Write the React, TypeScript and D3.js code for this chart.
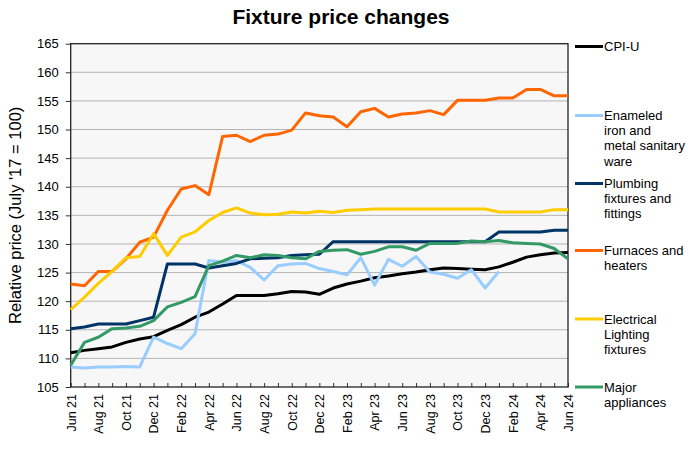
import React, { useEffect, useRef } from 'react';
import * as d3 from 'd3';

// Monthly, Jun 2021 .. Jun 2024
const months = [
  'Jun 21', 'Jul 21', 'Aug 21', 'Sep 21', 'Oct 21', 'Nov 21', 'Dec 21',
  'Jan 22', 'Feb 22', 'Mar 22', 'Apr 22', 'May 22', 'Jun 22', 'Jul 22',
  'Aug 22', 'Sep 22', 'Oct 22', 'Nov 22', 'Dec 22', 'Jan 23', 'Feb 23',
  'Mar 23', 'Apr 23', 'May 23', 'Jun 23', 'Jul 23', 'Aug 23', 'Sep 23',
  'Oct 23', 'Nov 23', 'Dec 23', 'Jan 24', 'Feb 24', 'Mar 24', 'Apr 24',
  'May 24', 'Jun 24',
];

const yTicks = [105, 110, 115, 120, 125, 130, 135, 140, 145, 150, 155, 160, 165];

const cpiU = [
  111.0, 111.4, 111.7, 112.0, 112.8, 113.4, 113.8, 114.9, 115.9, 117.2,
  118.1, 119.5, 121.0, 121.0, 121.0, 121.3, 121.7, 121.6, 121.2, 122.3,
  123.0, 123.5, 124.1, 124.4, 124.8, 125.1, 125.5, 125.8, 125.7, 125.6,
  125.5, 126.0, 126.8, 127.7, 128.1, 128.4, 128.5,
];

const enameled: (number | null)[] = [
  108.5, 108.3, 108.5, 108.5, 108.6, 108.5, 113.7, 112.6, 111.7, 114.3,
  127.1, 126.8, 127.1, 125.9, 123.7, 126.2, 126.5, 126.6, 125.7, 125.2,
  124.6, 127.6, 122.8, 127.3, 126.1, 127.8, 125.1, 124.7, 124.0, 125.5,
  122.3, 125.2, null, null, null, null, null,
];

const plumbing = [
  115.2, 115.5, 116.0, 116.0, 116.0, 116.6, 117.2, 126.5, 126.5, 126.5,
  125.8, 126.2, 126.6, 127.4, 127.5, 127.6, 128.0, 128.1, 128.2, 130.4,
  130.4, 130.4, 130.4, 130.4, 130.4, 130.4, 130.4, 130.4, 130.4, 130.4,
  130.4, 132.1, 132.1, 132.1, 132.1, 132.4, 132.4,
];

const furnaces = [
  123.0, 122.7, 125.2, 125.2, 127.4, 130.3, 131.2, 135.9, 139.6, 140.2,
  138.6, 148.8, 149.0, 147.9, 149.0, 149.2, 149.9, 152.9, 152.4, 152.2,
  150.5, 153.1, 153.7, 152.2, 152.7, 152.9, 153.3, 152.6, 155.1, 155.1,
  155.1, 155.5, 155.5, 157.0, 157.0, 155.9, 155.9,
];

const lighting = [
  118.5, 120.7, 123.1, 125.2, 127.6, 127.8, 131.8, 128.0, 131.2, 132.1,
  134.1, 135.5, 136.3, 135.4, 135.1, 135.2, 135.6, 135.4, 135.7, 135.5,
  135.9, 136.0, 136.1, 136.1, 136.1, 136.1, 136.1, 136.1, 136.1, 136.1,
  136.1, 135.6, 135.6, 135.6, 135.6, 136.0, 136.0,
];

const appliances = [
  108.8, 112.8, 113.7, 115.2, 115.3, 115.6, 116.6, 119.0, 119.8, 120.8,
  126.2, 127.0, 128.0, 127.6, 128.1, 128.0, 127.6, 127.4, 128.7, 128.9,
  129.0, 128.2, 128.7, 129.5, 129.5, 128.9, 130.1, 130.1, 130.1, 130.5,
  130.4, 130.6, 130.2, 130.1, 130.0, 129.2, 127.4,
];

const series = [
  { name: ['CPI-U'], values: cpiU, color: '#000000', legendY: 46.5 },
  { name: ['Enameled', 'iron and', 'metal sanitary', 'ware'], values: enameled, color: '#99ccff', legendY: 115.5 },
  { name: ['Plumbing', 'fixtures and', 'fittings'], values: plumbing, color: '#003366', legendY: 183.5 },
  { name: ['Furnaces and', 'heaters'], values: furnaces, color: '#ff6600', legendY: 250.5 },
  { name: ['Electrical', 'Lighting', 'fixtures'], values: lighting, color: '#ffcc00', legendY: 319 },
  { name: ['Major', 'appliances'], values: appliances, color: '#339966', legendY: 387 },
];

const FONT = 'Arial, "Liberation Sans", sans-serif';

const App: React.FC = () => {
  const chartRef = useRef<SVGSVGElement | null>(null);

  useEffect(() => {
    const svg = d3.select(chartRef.current);
    svg.selectAll('*').remove();

    const left = 70.7;
    const right = 568;
    const top = 43.7;
    const bottom = 387;

    const x = d3.scaleLinear().domain([0, months.length - 1]).range([left, right]);
    const y = d3.scaleLinear().domain([105, 165]).range([bottom, top]);

    // Title
    svg
      .append('text')
      .attr('x', 341)
      .attr('y', 24)
      .attr('text-anchor', 'middle')
      .attr('font-family', FONT)
      .attr('font-weight', 'bold')
      .attr('font-size', 21)
      .text('Fixture price changes');

    // Plot background
    svg
      .append('rect')
      .attr('x', left)
      .attr('y', top)
      .attr('width', right - left)
      .attr('height', bottom - top)
      .attr('fill', '#f7f7f7');

    // Gridlines
    svg
      .append('g')
      .selectAll('line')
      .data(yTicks.filter((t) => t !== 105 && t !== 165))
      .enter()
      .append('line')
      .attr('x1', left)
      .attr('x2', right)
      .attr('y1', (d) => y(d))
      .attr('y2', (d) => y(d))
      .attr('stroke', '#b4b4b4')
      .attr('stroke-width', 1);

    // Y axis
    const yAxis = d3
      .axisLeft(y)
      .tickValues(yTicks)
      .tickSize(5)
      .tickPadding(7)
      .tickFormat((d) => String(d));
    const gy = svg.append('g').attr('transform', `translate(${left},0)`).call(yAxis);
    gy.select('.domain').remove();
    gy.selectAll('line').attr('stroke', '#333');
    gy.selectAll('text').attr('font-family', FONT).attr('font-size', 13).attr('fill', '#000');

    // X axis (ticks inside, labels every 2 months rotated)
    const xAxis = d3
      .axisBottom(x)
      .tickValues(d3.range(months.length))
      .tickSize(-4)
      .tickFormat((d) => ((d as number) % 2 === 0 ? months[d as number] : ''));
    const gx = svg.append('g').attr('transform', `translate(0,${bottom})`).call(xAxis);
    gx.select('.domain').remove();
    gx.selectAll('line').attr('stroke', '#333');
    gx.selectAll('text')
      .attr('font-family', FONT)
      .attr('font-size', 12.5)
      .attr('fill', '#000')
      .attr('transform', 'rotate(-90)')
      .attr('x', -7)
      .attr('y', 0)
      .attr('dy', '0.35em')
      .style('text-anchor', 'end');

    // Plot border
    svg
      .append('rect')
      .attr('x', left)
      .attr('y', top)
      .attr('width', right - left)
      .attr('height', bottom - top)
      .attr('fill', 'none')
      .attr('stroke', '#222')
      .attr('stroke-width', 1.3);

    // Lines
    const line = d3
      .line<number | null>()
      .defined((d) => d !== null)
      .x((_, i) => x(i))
      .y((d) => y(d as number));

    series.forEach((s) => {
      svg
        .append('path')
        .datum(s.values as (number | null)[])
        .attr('fill', 'none')
        .attr('stroke', s.color)
        .attr('stroke-width', 3)
        .attr('stroke-linejoin', 'round')
        .attr('d', line);
    });

    // Legend
    series.forEach((s) => {
      const g = svg.append('g');
      g.append('line')
        .attr('x1', 575)
        .attr('x2', 603)
        .attr('y1', s.legendY)
        .attr('y2', s.legendY)
        .attr('stroke', s.color)
        .attr('stroke-width', 3);
      s.name.forEach((t, k) => {
        g.append('text')
          .attr('x', 604)
          .attr('y', s.legendY + k * 15.2)
          .attr('dy', '0.35em')
          .attr('font-family', FONT)
          .attr('font-size', 13)
          .text(t);
      });
    });

    // Y axis title
    svg
      .append('text')
      .attr('transform', `translate(21,${(top + bottom) / 2}) rotate(-90)`)
      .attr('text-anchor', 'middle')
      .attr('font-family', FONT)
      .attr('font-size', 16.5)
      .text("Relative price (July '17 = 100)");
  }, []);

  return (
    <svg
      ref={chartRef}
      width={696}
      height={450}
      style={{ position: 'absolute', left: 0, top: 0, background: '#fff' }}
    ></svg>
  );
};

export default App;
